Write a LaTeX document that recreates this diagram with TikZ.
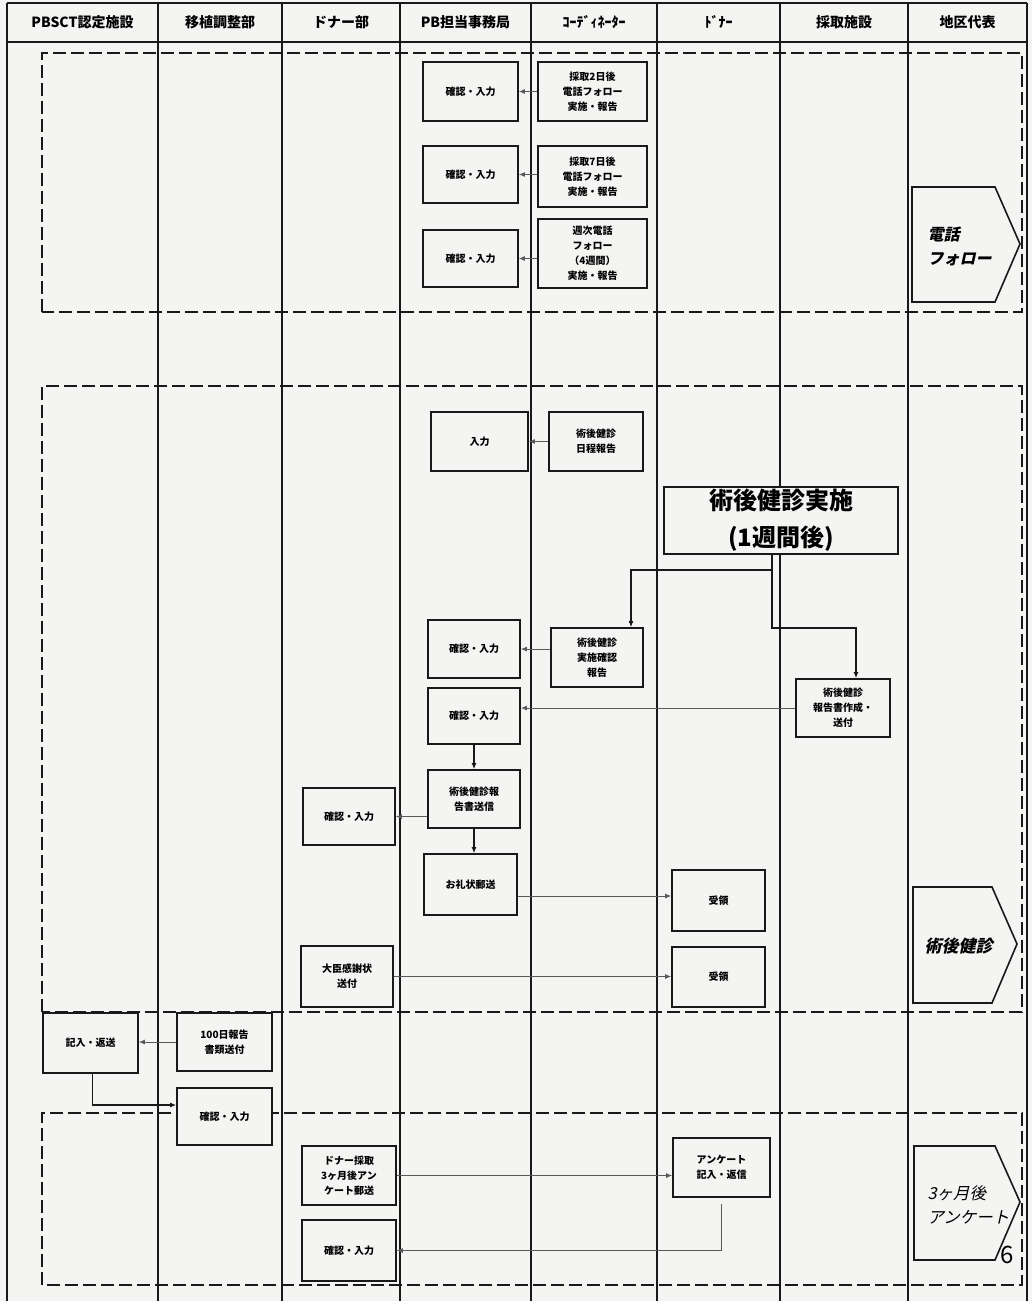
\documentclass[tikz,border=0pt]{standalone}
\usepackage{fontspec}
\setmainfont{Noto Sans CJK JP}
\newfontfamily\slantfont[FakeSlant=0.22]{Noto Sans CJK JP}
\usetikzlibrary{arrows.meta}
\definecolor{bgc}{RGB}{244,244,243}
\definecolor{ink}{RGB}{25,25,25}
\begin{document}
\begin{tikzpicture}[x=1pt,y=-1pt,
  lane/.style={line width=1.5pt, draw=ink},
  dframe/.style={line width=1.6pt, draw=ink, dash pattern=on 13pt off 5pt},
  procbox/.style={draw=ink, line width=1.6pt, fill=bgc, align=center, inner sep=0pt,
     font=\bfseries\fontsize{10}{15}\selectfont},
  headtxt/.style={font=\bfseries\fontsize{14}{16}\selectfont},
  conn/.style={line width=1pt, draw=black!65, -{Latex[length=6pt,width=5pt]}},
  connk/.style={line width=1.3pt, draw=ink, -{Latex[length=6pt,width=5pt]}},
  penta/.style={draw=ink, line width=1.6pt, fill=bgc}]
\fill[bgc] (0,0) rectangle (1032,1301);
\useasboundingbox (0,0) rectangle (1032,1301);

% lanes and header
\foreach \xx in {7,158,282,400,531,657,780,908,1027}{\draw[lane] (\xx,3) -- (\xx,1301);}
\draw[ink, line width=2.5pt] (7,3) -- (1027,3);
\draw[lane] (7,42) -- (1027,42);
\node[headtxt] (h1) at (82.5,22) {PBSCT認定施設};
\node[headtxt] (h2) at (220,22) {移植調整部};
\node[headtxt] (h3) at (341,22) {ドナー部};
\node[headtxt] (h4) at (465.5,22) {PB担当事務局};
\node[headtxt] (h5) at (594,22) {ｺｰﾃﾞｨﾈｰﾀｰ};
\node[headtxt] (h6) at (718.5,22) {ﾄﾞﾅｰ};
\node[headtxt] (h7) at (844,22) {採取施設};
\node[headtxt] (h8) at (967.5,22) {地区代表};

% dashed phase frames
\draw[dframe] (42,312) -- (42,53) -- (1022,53) -- (1022,312) -- cycle;
\draw[dframe] (42,1012) -- (42,386) -- (1022,386) -- (1022,1012) -- cycle;
\draw[dframe] (42,1285) -- (42,1113) -- (1022,1113) -- (1022,1285) -- cycle;

% phase markers
\draw[penta] (912,187) -- (995,187) -- (1020,244) -- (995,302) -- (912,302) -- cycle;
\node[anchor=west, align=left, font=\slantfont\bfseries\fontsize{16}{24}\selectfont] (p1) at (924,246) {電話\\フォロー};
\draw[penta] (913,887) -- (992,887) -- (1017,944) -- (992,1003) -- (913,1003) -- cycle;
\node[anchor=west, font=\slantfont\bfseries\fontsize{17}{20}\selectfont] (p2) at (921,946) {術後健診};
\draw[penta] (914,1146) -- (995,1146) -- (1020,1202) -- (995,1260) -- (914,1260) -- cycle;
\node[anchor=west, align=left, font=\slantfont\fontsize{16.5}{24}\selectfont] (p3) at (924,1205) {3ヶ月後\\アンケート};
\node[font=\fontsize{24}{26}\selectfont] (pg) at (1007,1255) {6};

% phone follow-up
\node[procbox, minimum width=95pt, minimum height=59pt] (a1) at (470.5,91.5) {確認・入力};
\node[procbox, minimum width=109pt, minimum height=59pt] (c1) at (592.5,91.5) {採取2日後\\電話フォロー\\実施・報告};
\node[procbox, minimum width=95pt, minimum height=57pt] (a2) at (470.5,174.5) {確認・入力};
\node[procbox, minimum width=109pt, minimum height=61pt] (c2) at (592.5,176.5) {採取7日後\\電話フォロー\\実施・報告};
\node[procbox, minimum width=95pt, minimum height=57pt] (a3) at (470.5,258.5) {確認・入力};
\node[procbox, minimum width=109pt, minimum height=69pt] (c3) at (592.5,253.5) {週次電話\\フォロー\\（4週間）\\実施・報告};
\draw[conn] (c1.west |- a1.east) -- (a1.east);
\draw[conn] (c2.west |- a2.east) -- (a2.east);
\draw[conn] (c3.west |- a3.east) -- (a3.east);

% post-op check-up
\node[procbox, minimum width=97pt, minimum height=59pt] (in1) at (479.5,441.5) {入力};
\node[procbox, minimum width=94pt, minimum height=59pt] (sk1) at (596,441.5) {術後健診\\日程報告};
\draw[conn] (sk1.west) -- (sk1.west -| in1.east);
\node[procbox, minimum width=234pt, minimum height=67pt, font=\bfseries\fontsize{24}{37}\selectfont] (big) at (781,520.5) {術後健診実施\\(1週間後)};
\node[procbox, minimum width=92pt, minimum height=58pt] (b1) at (474,649) {確認・入力};
\node[procbox, minimum width=92pt, minimum height=59pt] (sk2) at (597,657.5) {術後健診\\実施確認\\報告};
\node[procbox, minimum width=94pt, minimum height=58pt] (rep) at (843,708) {術後健診\\報告書作成・\\送付};
\node[procbox, minimum width=92pt, minimum height=56pt] (b2) at (474,716) {確認・入力};
\node[procbox, minimum width=92pt, minimum height=58pt] (b3) at (474,799) {術後健診報\\告書送信};
\node[procbox, minimum width=93pt, minimum height=61pt] (b4) at (470.5,884.5) {お礼状郵送};
\node[procbox, minimum width=92pt, minimum height=57pt] (d1) at (349,816.5) {確認・入力};
\node[procbox, minimum width=93pt, minimum height=61pt] (r1) at (718.5,900.5) {受領};
\node[procbox, minimum width=92pt, minimum height=61pt] (dk) at (347,976.5) {大臣感謝状\\送付};
\node[procbox, minimum width=93pt, minimum height=60pt] (r2) at (718.5,977) {受領};

\coordinate (k1) at (631,570);
\coordinate (k2) at (856,628);
\draw[connk] ([xshift=-9pt]big.south) -- ([xshift=-9pt]big.south |- k1) -- (k1) -- (k1 |- sk2.north);
\draw[connk] ([xshift=-9pt]big.south) -- ([xshift=-9pt]big.south |- k2) -- (k2) -- (k2 |- rep.north);
\draw[conn] (sk2.west |- b1.east) -- (b1.east);
\draw[conn] (rep.west) -- (rep.west -| b2.east);
\draw[connk] (b2.south) -- (b3.north);
\draw[connk] (b3.south) -- (b3.south |- b4.north);
\draw[conn] (d1.east -| b3.west) -- (d1.east);
\coordinate (y896) at (0,896);
\draw[conn] (b4.east |- y896) -- (r1.west |- y896);
\draw[conn] (dk.east) -- (dk.east -| r2.west);

% 100-day report
\node[procbox, minimum width=95pt, minimum height=60pt] (kn) at (90.5,1043) {記入・返送};
\node[procbox, minimum width=95pt, minimum height=58pt] (hd) at (224.5,1042) {100日報告\\書類送付};
\node[procbox, minimum width=95pt, minimum height=57pt] (cx) at (224.5,1116.5) {確認・入力};
\draw[conn] (hd.west) -- (hd.west -| kn.east);
\coordinate (y1105) at (0,1105);
\draw[connk] ([xshift=2pt]kn.south) -- ([xshift=2pt]kn.south |- y1105) -- (cx.west |- y1105);

% 3-month questionnaire
\node[procbox, minimum width=94pt, minimum height=59pt] (dq) at (349,1175.5) {ドナー採取\\3ヶ月後アン\\ケート郵送};
\node[procbox, minimum width=94pt, minimum height=61pt] (d2) at (349,1250.5) {確認・入力};
\node[procbox, minimum width=97pt, minimum height=59pt] (an) at (721.5,1167.5) {アンケート\\記入・返信};
\draw[conn] (dq.east) -- (dq.east -| an.west);
\coordinate (anb) at ([yshift=-6pt]an.south);
\draw[conn] (anb) -- (anb |- d2.east) -- (d2.east);
\end{tikzpicture}
\end{document}
